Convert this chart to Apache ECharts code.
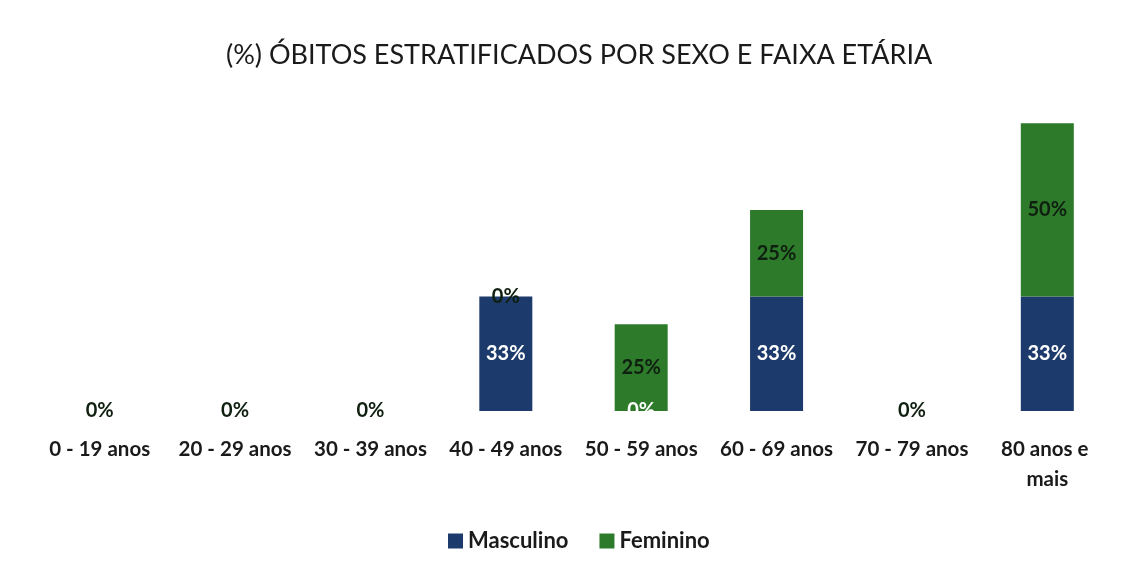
<!DOCTYPE html>
<html><head><meta charset="utf-8">
<script src="https://cdn.jsdelivr.net/npm/echarts@6/dist/echarts.min.js"></script>
<style>html,body{margin:0;padding:0;background:#fff}#c{width:1130px;height:576px}</style>
</head><body><div id="c"></div>
<script>
const categories = ['0 - 19 anos','20 - 29 anos','30 - 39 anos','40 - 49 anos','50 - 59 anos','60 - 69 anos','70 - 79 anos','80 anos e mais'];
const masculino = [0,0,0,33,0,33,0,33];
const feminino = [0,0,0,0,25,25,0,50];
const FONT = 'Lato';
const chart = echarts.init(document.getElementById('c'));
chart.setOption({
  backgroundColor:'#fff',
  animation:false,
  title:{text:'(%) ÓBITOS ESTRATIFICADOS POR SEXO E FAIXA ETÁRIA',left:221,top:37,
    textStyle:{fontFamily:FONT,fontSize:27,fontWeight:'normal',color:'#1a1a1a'}},
  legend:{bottom:19,left:443,itemWidth:15,itemHeight:15,itemGap:31,icon:'rect',
    textStyle:{fontFamily:FONT,fontSize:22,fontWeight:'bold',color:'#1a1a1a'},
    data:['Masculino','Feminino']},
  grid:{left:32,right:15,top:99,bottom:165,containLabel:false},
  xAxis:{type:'category',data:categories,axisLine:{show:false},axisTick:{show:false},
    axisLabel:{interval:0,margin:23,fontFamily:FONT,fontSize:20.5,fontWeight:'bold',color:'#1a1a1a',
      width:128,overflow:'break',lineHeight:30}},
  yAxis:{type:'value',min:0,max:90,show:false,splitLine:{show:false}},
  series:[
    {name:'Masculino',type:'bar',stack:'s',data:masculino,barWidth:53,
     itemStyle:{color:'#1c3a6c'},
     label:{show:true,position:'inside',formatter:'{c}%',fontFamily:FONT,fontSize:20,fontWeight:'bold',color:'#ffffff'}},
    {name:'Feminino',type:'bar',stack:'s',data:feminino,barWidth:53,
     itemStyle:{color:'#2e7a2b'},
     label:{show:true,position:'inside',formatter:'{c}%',fontFamily:FONT,fontSize:20,fontWeight:'bold',color:'#0f1f10'}}
  ]
});
</script></body></html>
